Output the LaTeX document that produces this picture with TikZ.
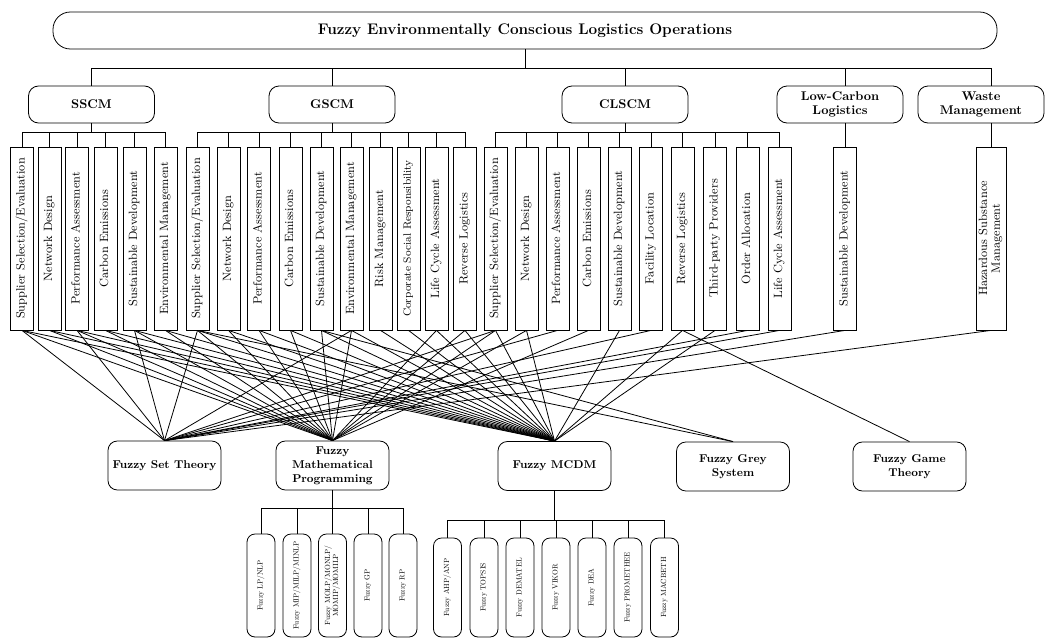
\documentclass[tikz,border=0pt]{standalone}
\usepackage{tikz}
\usetikzlibrary{shapes,arrows}

\newcommand{\vtext}[1]{\rotatebox{90}{\begin{tabular}{@{}c@{}}#1\end{tabular}}}
\newcommand{\stext}[1]{\scalebox{0.56}{\vtext{#1}}}

\begin{document}
\begin{tikzpicture}[x=0.75pt, y=-0.75pt, line width=0.6pt,
    head/.style={rectangle, rounded corners=13pt, draw=black, minimum width=708pt, minimum height=27.75pt, font=\fontsize{11.5}{14}\selectfont\bfseries},
    area/.style={rectangle, rounded corners=7.5pt, draw=black, minimum width=94.5pt, minimum height=27.75pt, inner sep=1pt, align=center, font=\fontsize{9.5}{11}\selectfont\bfseries},
    topic/.style={rectangle, draw=black, minimum width=17.25pt, minimum height=137.25pt, inner sep=0pt, font=\fontsize{9}{9.5}\selectfont},
    method/.style={rectangle, rounded corners=7pt, draw=black, minimum width=84.75pt, minimum height=36.75pt, inner sep=1pt, align=center, font=\fontsize{8.5}{10.5}\selectfont\bfseries},
    tool/.style={rectangle, rounded corners=6pt, draw=black, minimum width=21pt, inner sep=0pt, font=\fontsize{10}{10.5}\selectfont}]
    		\clip (0,0) rectangle (1049,639);
    		
    		\node (top)[head] at (525,30.5) {Fuzzy Environmentally Conscious Logistics Operations};
    		
    		\node (sscm)[area] at (91.5,104.5) {SSCM};
    		\node (gscm)[area] at (332,104.5) {GSCM};
    		\node (clscm)[area] at (625,104.5) {CLSCM};
    		\node (lc)[area] at (840,104.5) {Low-Carbon\\Logistics};
    		\node (wm)[area] at (981,104.5) {Waste\\Management};
    		
    		% topics of SSCM
    		\node (s1)[topic] at (22,238.5) {\vtext{Supplier Selection/Evaluation}};
    		\node (s2)[topic] at (49.5,238.5) {\vtext{Network Design}};
    		\node (s3)[topic] at (77,238.5) {\vtext{Performance Assessment}};
    		\node (s4)[topic] at (105.5,238.5) {\vtext{Carbon Emissions}};
    		\node (s5)[topic] at (134.5,238.5) {\vtext{Sustainable Development}};
    		\node (s6)[topic] at (165.5,238.5) {\vtext{Environmental Management}};
    		
    		% topics of GSCM
    		\node (g1)[topic] at (197.5,238.5) {\vtext{Supplier Selection/Evaluation}};
    		\node (g2)[topic] at (228.5,238.5) {\vtext{Network Design}};
    		\node (g3)[topic] at (259,238.5) {\vtext{Performance Assessment}};
    		\node (g4)[topic] at (290.5,238.5) {\vtext{Carbon Emissions}};
    		\node (g5)[topic] at (321.5,238.5) {\vtext{Sustainable Development}};
    		\node (g6)[topic] at (351.5,238.5) {\vtext{Environmental Management}};
    		\node (g7)[topic] at (380.5,238.5) {\vtext{Risk Management}};
    		\node (g8)[topic] at (408.5,238.5) {\fontsize{8}{9}\selectfont\vtext{Corporate Social Responsibility}};
    		\node (g9)[topic] at (436.5,238.5) {\vtext{Life Cycle Assessment}};
    		\node (g10)[topic] at (465,238.5) {\vtext{Reverse Logistics}};
    		
    		% topics of CLSCM
    		\node (c1)[topic] at (495.5,238.5) {\vtext{Supplier Selection/Evaluation}};
    		\node (c2)[topic] at (526.5,238.5) {\vtext{Network Design}};
    		\node (c3)[topic] at (557.5,238.5) {\vtext{Performance Assessment}};
    		\node (c4)[topic] at (588.5,238.5) {\vtext{Carbon Emissions}};
    		\node (c5)[topic] at (619.5,238.5) {\vtext{Sustainable Development}};
    		\node (c6)[topic] at (651,238.5) {\vtext{Facility Location}};
    		\node (c7)[topic] at (682.5,238.5) {\vtext{Reverse Logistics}};
    		\node (c8)[topic] at (715,238.5) {\vtext{Third-party Providers}};
    		\node (c9)[topic] at (747.5,238.5) {\vtext{Order Allocation}};
    		\node (c10)[topic] at (779.5,238.5) {\vtext{Life Cycle Assessment}};
    		
    		\node (l1)[topic] at (845,238.5) {\vtext{Sustainable Development}};
    		\node (w1)[topic, minimum width=22.5pt] at (991,238.5) {\vtext{Hazardous Substance\\Management}};
    		
    		% fuzzy methods
    		\node (fst)[method] at (164.5,465.5) {Fuzzy Set Theory};
    		\node (fmp)[method] at (332.5,465.5) {Fuzzy\\Mathematical\\Programming};
    		\node (mcdm)[method] at (554.5,466) {Fuzzy MCDM};
    		\node (fgs)[method] at (733,466.5) {Fuzzy Grey\\System};
    		\node (fgt)[method] at (909.5,466.5) {Fuzzy Game\\Theory};
    		
    		\node (p1)[tool, minimum height=77.25pt] at (261,585.5) {\stext{Fuzzy LP/NLP}};
    		\node (p2)[tool, minimum height=77.25pt] at (297,585.5) {\stext{Fuzzy MIP/MILP/MINLP}};
    		\node (p3)[tool, minimum height=77.25pt] at (332.5,585.5) {\stext{Fuzzy MOLP/MONLP/\\MOMIP/MOMILP}};
    		\node (p4)[tool, minimum height=77.25pt] at (368,585.5) {\stext{Fuzzy GP}};
    		\node (p5)[tool, minimum height=77.25pt] at (403,585.5) {\stext{Fuzzy RP}};
    		
    		\node (d1)[tool, minimum height=74.25pt] at (447.5,587.5) {\stext{Fuzzy AHP/ANP}};
    		\node (d2)[tool, minimum height=74.25pt] at (484,587.5) {\stext{Fuzzy TOPSIS}};
    		\node (d3)[tool, minimum height=74.25pt] at (520,587.5) {\stext{Fuzzy DEMATEL}};
    		\node (d4)[tool, minimum height=74.25pt] at (556,587.5) {\stext{Fuzzy VIKOR}};
    		\node (d5)[tool, minimum height=74.25pt] at (592,587.5) {\stext{Fuzzy DEA}};
    		\node (d6)[tool, minimum height=74.25pt] at (628,587.5) {\stext{Fuzzy PROMETHEE}};
    		\node (d7)[tool, minimum height=74.25pt] at (664.5,587.5) {\stext{Fuzzy MACBETH}};
    		
    		% tree
    		\coordinate (bus) at (525,68);
    		\coordinate (sb) at (91.5,132);
    		\coordinate (gb) at (332,132);
    		\coordinate (cb) at (625,132);
    		\coordinate (pb) at (332.5,508);
    		\coordinate (db) at (554.5,520);
    		\coordinate (lb) at (845,68);
    		\coordinate (wb) at (991,68);
    		
    		\draw (top.south) -- (bus);
    		\draw (sscm.north) |- (bus);
    		\draw (gscm.north) |- (bus);
    		\draw (clscm.north) |- (bus);
    		\draw (lb) -- (lb |- lc.north);
    		\draw (wb) -- (wb |- wm.north);
    		\draw (bus) -- (wb);
    		
    		\draw (sscm.south) -- (sb);
    		\draw (s1.north) |- (sb);
    		\draw (s2.north) |- (sb);
    		\draw (s3.north) |- (sb);
    		\draw (s4.north) |- (sb);
    		\draw (s5.north) |- (sb);
    		\draw (s6.north) |- (sb);
    		
    		\draw (gscm.south) -- (gb);
    		\draw (g1.north) |- (gb);
    		\draw (g2.north) |- (gb);
    		\draw (g3.north) |- (gb);
    		\draw (g4.north) |- (gb);
    		\draw (g5.north) |- (gb);
    		\draw (g6.north) |- (gb);
    		\draw (g7.north) |- (gb);
    		\draw (g8.north) |- (gb);
    		\draw (g9.north) |- (gb);
    		\draw (g10.north) |- (gb);
    		
    		\draw (clscm.south) -- (cb);
    		\draw (c1.north) |- (cb);
    		\draw (c2.north) |- (cb);
    		\draw (c3.north) |- (cb);
    		\draw (c4.north) |- (cb);
    		\draw (c5.north) |- (cb);
    		\draw (c6.north) |- (cb);
    		\draw (c7.north) |- (cb);
    		\draw (c8.north) |- (cb);
    		\draw (c9.north) |- (cb);
    		\draw (c10.north) |- (cb);
    		
    		\draw (l1.north) -- (l1.north |- lc.south);
    		\draw (w1.north) -- (w1.north |- wm.south);
    		
    		\draw (fmp.south) -- (pb);
    		\draw (p1.north) |- (pb);
    		\draw (p2.north) |- (pb);
    		\draw (p3.north) |- (pb);
    		\draw (p4.north) |- (pb);
    		\draw (p5.north) |- (pb);
    		
    		\draw (mcdm.south) -- (db);
    		\draw (d1.north) |- (db);
    		\draw (d2.north) |- (db);
    		\draw (d3.north) |- (db);
    		\draw (d4.north) |- (db);
    		\draw (d5.north) |- (db);
    		\draw (d6.north) |- (db);
    		\draw (d7.north) |- (db);
    		
    		% topics to methods
    		\draw (s1.south) -- (fst.north);
    		\draw (s3.south) -- (fst.north);
    		\draw (s5.south) -- (fst.north);
    		\draw (g1.south) -- (fst.north);
    		\draw (g6.south) -- (fst.north);
    		\draw (c1.south) -- (fst.north);
    		\draw (c3.south) -- (fst.north);
    		\draw (c6.south) -- (fst.north);
    		\draw (c9.south) -- (fst.north);
    		\draw (c10.south) -- (fst.north);
    		\draw (l1.south) -- (fst.north);
    		\draw (w1.south) -- (fst.north);
    		
    		\draw (s1.south) -- (fmp.north);
    		\draw (s2.south) -- (fmp.north);
    		\draw (s3.south) -- (fmp.north);
    		\draw (s4.south) -- (fmp.north);
    		\draw (s5.south) -- (fmp.north);
    		\draw (s6.south) -- (fmp.north);
    		\draw (g1.south) -- (fmp.north);
    		\draw (g2.south) -- (fmp.north);
    		\draw (g3.south) -- (fmp.north);
    		\draw (g4.south) -- (fmp.north);
    		\draw (g5.south) -- (fmp.north);
    		\draw (g6.south) -- (fmp.north);
    		\draw (g9.south) -- (fmp.north);
    		\draw (g10.south) -- (fmp.north);
    		\draw (c1.south) -- (fmp.north);
    		\draw (c2.south) -- (fmp.north);
    		\draw (c4.south) -- (fmp.north);
    		
    		\draw (s1.south) -- (mcdm.north);
    		\draw (s2.south) -- (mcdm.north);
    		\draw (s3.south) -- (mcdm.north);
    		\draw (s4.south) -- (mcdm.north);
    		\draw (s5.south) -- (mcdm.north);
    		\draw (s6.south) -- (mcdm.north);
    		\draw (g1.south) -- (mcdm.north);
    		\draw (g2.south) -- (mcdm.north);
    		\draw (g3.south) -- (mcdm.north);
    		\draw (g4.south) -- (mcdm.north);
    		\draw (g5.south) -- (mcdm.north);
    		\draw (g6.south) -- (mcdm.north);
    		\draw (g7.south) -- (mcdm.north);
    		\draw (g8.south) -- (mcdm.north);
    		\draw (g9.south) -- (mcdm.north);
    		\draw (g10.south) -- (mcdm.north);
    		\draw (c1.south) -- (mcdm.north);
    		\draw (c2.south) -- (mcdm.north);
    		\draw (c5.south) -- (mcdm.north);
    		\draw (c7.south) -- (mcdm.north);
    		\draw (c8.south) -- (mcdm.north);
    		
    		\draw (g1.south) -- (fgs.north);
    		\draw (g5.south) -- (fgs.north);
    		
    		\draw (c7.south) -- (fgt.north);
    	\end{tikzpicture}
\end{document}
